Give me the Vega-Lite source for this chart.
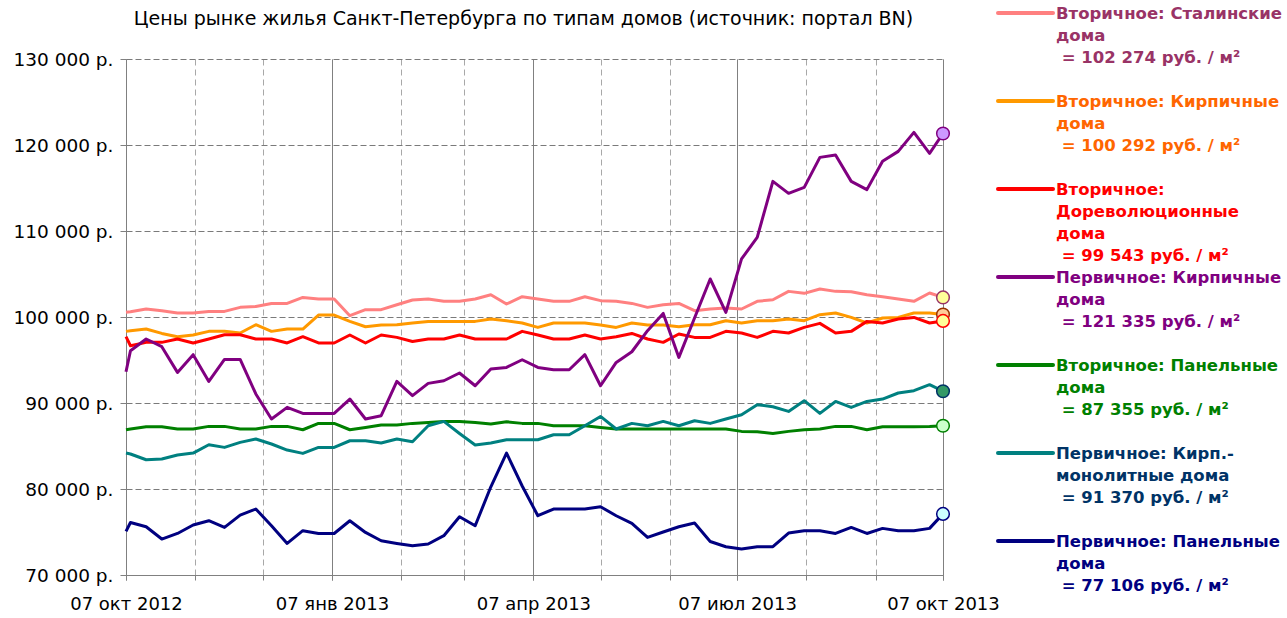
{
"$schema": "https://vega.github.io/schema/vega-lite/v6.json",
"padding": {"left": 12, "top": 6, "right": 5, "bottom": 3},
"background": "white",
"config": {"view": {"stroke": null}, "font": "DejaVu Sans"},
"spacing": 55,
"bounds": "flush",
"resolve": {"scale": {"fill": "independent", "stroke": "independent", "color": "independent"}},
"datasets": {
"main": [
{"d":"2012-10-07T00:00","stal":100550,"kirp":98330,"dorev":97710,"pkirp":93640,"pan":86890,"pmono":84180,"ppan":75070},
{"d":"2012-10-09T00:00","stal":100600,"kirp":98400,"dorev":96660,"pkirp":96080,"pan":86980,"pmono":84070,"ppan":76110},
{"d":"2012-10-16T00:00","stal":100930,"kirp":98600,"dorev":97050,"pkirp":97440,"pan":87240,"pmono":83400,"ppan":75610},
{"d":"2012-10-23T00:00","stal":100730,"kirp":98090,"dorev":97050,"pkirp":96550,"pan":87240,"pmono":83490,"ppan":74180},
{"d":"2012-10-30T00:00","stal":100470,"kirp":97710,"dorev":97440,"pkirp":93560,"pan":86980,"pmono":83950,"ppan":74830},
{"d":"2012-11-06T00:00","stal":100470,"kirp":97910,"dorev":96980,"pkirp":95620,"pan":86980,"pmono":84180,"ppan":75810},
{"d":"2012-11-13T00:00","stal":100650,"kirp":98330,"dorev":97440,"pkirp":92510,"pan":87280,"pmono":85150,"ppan":76310},
{"d":"2012-11-20T00:00","stal":100650,"kirp":98330,"dorev":97940,"pkirp":95070,"pan":87280,"pmono":84840,"ppan":75530},
{"d":"2012-11-27T00:00","stal":101120,"kirp":98140,"dorev":97940,"pkirp":95070,"pan":86980,"pmono":85420,"ppan":76970},
{"d":"2012-12-04T00:00","stal":101230,"kirp":99100,"dorev":97440,"pkirp":91050,"pan":86980,"pmono":85810,"ppan":77670},
{"d":"2012-12-11T00:00","stal":101580,"kirp":98330,"dorev":97440,"pkirp":88140,"pan":87280,"pmono":85230,"ppan":75730},
{"d":"2012-12-18T00:00","stal":101580,"kirp":98600,"dorev":96980,"pkirp":89490,"pan":87280,"pmono":84530,"ppan":73670},
{"d":"2012-12-25T00:00","stal":102280,"kirp":98600,"dorev":97710,"pkirp":88790,"pan":86890,"pmono":84140,"ppan":75150},
{"d":"2013-01-01T00:00","stal":102090,"kirp":100230,"dorev":96980,"pkirp":88790,"pan":87630,"pmono":84840,"ppan":74830},
{"d":"2013-01-08T00:00","stal":102090,"kirp":100230,"dorev":96980,"pkirp":88790,"pan":87630,"pmono":84840,"ppan":74830},
{"d":"2013-01-15T00:00","stal":100150,"kirp":99490,"dorev":97910,"pkirp":90460,"pan":86890,"pmono":85610,"ppan":76310},
{"d":"2013-01-22T00:00","stal":100850,"kirp":98870,"dorev":96980,"pkirp":88140,"pan":87160,"pmono":85610,"ppan":74950},
{"d":"2013-01-29T00:00","stal":100850,"kirp":99070,"dorev":97910,"pkirp":88520,"pan":87440,"pmono":85350,"ppan":73980},
{"d":"2013-02-05T00:00","stal":101430,"kirp":99100,"dorev":97630,"pkirp":92510,"pan":87440,"pmono":85810,"ppan":73670},
{"d":"2013-02-12T00:00","stal":101980,"kirp":99300,"dorev":97160,"pkirp":90850,"pan":87630,"pmono":85500,"ppan":73400},
{"d":"2013-02-19T00:00","stal":102090,"kirp":99490,"dorev":97440,"pkirp":92280,"pan":87740,"pmono":87360,"ppan":73600},
{"d":"2013-02-26T00:00","stal":101820,"kirp":99490,"dorev":97440,"pkirp":92590,"pan":87860,"pmono":87860,"ppan":74570},
{"d":"2013-03-05T00:00","stal":101820,"kirp":99490,"dorev":97910,"pkirp":93490,"pan":87860,"pmono":86460,"ppan":76780},
{"d":"2013-03-12T00:00","stal":102090,"kirp":99490,"dorev":97440,"pkirp":92010,"pan":87740,"pmono":85110,"ppan":75730},
{"d":"2013-03-19T00:00","stal":102590,"kirp":99770,"dorev":97440,"pkirp":93950,"pan":87560,"pmono":85350,"ppan":80260},
{"d":"2013-03-26T00:00","stal":101510,"kirp":99570,"dorev":97440,"pkirp":94140,"pan":87820,"pmono":85730,"ppan":84180},
{"d":"2013-04-02T00:00","stal":102360,"kirp":99300,"dorev":98330,"pkirp":95030,"pan":87630,"pmono":85730,"ppan":80350},
{"d":"2013-04-09T00:00","stal":102090,"kirp":98790,"dorev":97910,"pkirp":94140,"pan":87630,"pmono":85730,"ppan":76890},
{"d":"2013-04-16T00:00","stal":101820,"kirp":99300,"dorev":97440,"pkirp":93870,"pan":87360,"pmono":86310,"ppan":77670},
{"d":"2013-04-23T00:00","stal":101820,"kirp":99300,"dorev":97440,"pkirp":93870,"pan":87360,"pmono":86310,"ppan":77670},
{"d":"2013-04-30T00:00","stal":102360,"kirp":99300,"dorev":97910,"pkirp":95620,"pan":87360,"pmono":87360,"ppan":77670},
{"d":"2013-05-07T00:00","stal":101900,"kirp":99070,"dorev":97440,"pkirp":92010,"pan":87160,"pmono":88440,"ppan":77940},
{"d":"2013-05-14T00:00","stal":101820,"kirp":98790,"dorev":97710,"pkirp":94720,"pan":86980,"pmono":86980,"ppan":76890},
{"d":"2013-05-21T00:00","stal":101580,"kirp":99300,"dorev":98090,"pkirp":95960,"pan":86980,"pmono":87630,"ppan":76000},
{"d":"2013-05-28T00:00","stal":101120,"kirp":99070,"dorev":97440,"pkirp":98410,"pan":86980,"pmono":87360,"ppan":74370},
{"d":"2013-06-04T00:00","stal":101430,"kirp":99070,"dorev":97050,"pkirp":100420,"pan":86980,"pmono":87860,"ppan":75000},
{"d":"2013-06-11T00:00","stal":101580,"kirp":98870,"dorev":98020,"pkirp":95300,"pan":86980,"pmono":87360,"ppan":75610},
{"d":"2013-06-18T00:00","stal":100730,"kirp":99100,"dorev":97630,"pkirp":99880,"pan":86980,"pmono":87940,"ppan":76040},
{"d":"2013-06-25T00:00","stal":100930,"kirp":99100,"dorev":97630,"pkirp":104420,"pan":86980,"pmono":87630,"ppan":73900},
{"d":"2013-07-02T00:00","stal":101050,"kirp":99570,"dorev":98330,"pkirp":100540,"pan":86980,"pmono":88140,"ppan":73290},
{"d":"2013-07-09T00:00","stal":100930,"kirp":99300,"dorev":98140,"pkirp":106750,"pan":86700,"pmono":88640,"ppan":73020},
{"d":"2013-07-16T00:00","stal":101820,"kirp":99570,"dorev":97630,"pkirp":109260,"pan":86660,"pmono":89800,"ppan":73290},
{"d":"2013-07-23T00:00","stal":102010,"kirp":99570,"dorev":98330,"pkirp":115770,"pan":86460,"pmono":89570,"ppan":73290},
{"d":"2013-07-30T00:00","stal":102980,"kirp":99770,"dorev":98140,"pkirp":114380,"pan":86700,"pmono":89020,"ppan":74880},
{"d":"2013-08-06T00:00","stal":102750,"kirp":99570,"dorev":98790,"pkirp":115070,"pan":86890,"pmono":90270,"ppan":75150},
{"d":"2013-08-13T00:00","stal":103260,"kirp":100270,"dorev":99260,"pkirp":118560,"pan":86980,"pmono":88790,"ppan":75150},
{"d":"2013-08-20T00:00","stal":102980,"kirp":100470,"dorev":98140,"pkirp":118840,"pan":87280,"pmono":90180,"ppan":74830},
{"d":"2013-08-27T00:00","stal":102940,"kirp":99950,"dorev":98330,"pkirp":115770,"pan":87280,"pmono":89490,"ppan":75530},
{"d":"2013-09-03T00:00","stal":102590,"kirp":99300,"dorev":99490,"pkirp":114810,"pan":86890,"pmono":90180,"ppan":74830},
{"d":"2013-09-10T00:00","stal":102360,"kirp":99880,"dorev":99300,"pkirp":118100,"pan":87240,"pmono":90460,"ppan":75420},
{"d":"2013-09-17T00:00","stal":102090,"kirp":99950,"dorev":99770,"pkirp":119260,"pan":87240,"pmono":91160,"ppan":75150},
{"d":"2013-09-24T00:00","stal":101820,"kirp":100470,"dorev":99950,"pkirp":121470,"pan":87240,"pmono":91430,"ppan":75150},
{"d":"2013-10-01T00:00","stal":102790,"kirp":100470,"dorev":99300,"pkirp":119030,"pan":87280,"pmono":92130,"ppan":75420},
{"d":"2013-10-07T00:00","stal":102274,"kirp":100292,"dorev":99543,"pkirp":121335,"pan":87355,"pmono":91370,"ppan":77106}
],
"legend": [
{"key":"stal","label":["Вторичное: Сталинские","дома","\u200b\u00a0= 102 274 руб. / м²"]},
{"key":"kirp","label":["Вторичное: Кирпичные","дома","\u200b\u00a0= 100 292 руб. / м²"]},
{"key":"dorev","label":["Вторичное:","Дореволюционные","дома","\u200b\u00a0= 99 543 руб. / м²"]},
{"key":"pkirp","label":["Первичное: Кирпичные","дома","\u200b\u00a0= 121 335 руб. / м²"]},
{"key":"pan","label":["Вторичное: Панельные","дома","\u200b\u00a0= 87 355 руб. / м²"]},
{"key":"pmono","label":["Первичное: Кирп.-","монолитные дома","\u200b\u00a0= 91 370 руб. / м²"]},
{"key":"ppan","label":["Первичное: Панельные","дома","\u200b\u00a0= 77 106 руб. / м²"]}
]
},
"hconcat": [
{
"width": 817,
"height": 516,
"title": {"text": "Цены рынке жилья Санкт-Петербурга по типам домов (источник: портал BN)", "font": "DejaVu Sans", "fontSize": 19, "fontWeight": "normal", "color": "#000000", "offset": 21, "dx": -11, "anchor": "middle"},
"data": {"name": "main"},
"transform": [{"fold": ["stal","kirp","dorev","pkirp","pan","pmono","ppan"], "as": ["key","value"]}],
"layer": [
{
"mark": {"type": "line", "strokeWidth": 3, "strokeJoin": "round"},
"encoding": {
"x": {"field": "d", "type": "temporal",
 "scale": {"domain": [{"year":2012,"month":10,"date":7},{"year":2013,"month":10,"date":7}]},
 "axis": {"orient": "bottom", "title": null, "labels": false, "grid": true, "gridDash": [6,4], "gridColor": "#a8a8a8", "gridWidth": 1, "ticks": true, "tickSize": 5, "tickColor": "#808080", "domain": true, "domainColor": "#808080",
  "values": [{"year":2012,"month":10,"date":7},{"year":2012,"month":11,"date":7},{"year":2012,"month":12,"date":7},{"year":2013,"month":1,"date":7},{"year":2013,"month":2,"date":7},{"year":2013,"month":3,"date":7},{"year":2013,"month":4,"date":7},{"year":2013,"month":5,"date":7},{"year":2013,"month":6,"date":7},{"year":2013,"month":7,"date":7},{"year":2013,"month":8,"date":7},{"year":2013,"month":9,"date":7},{"year":2013,"month":10,"date":7}]}},
"y": {"field": "value", "type": "quantitative",
 "scale": {"domain": [70000,130000], "nice": false, "zero": false},
 "axis": {"title": null, "values": [70000,80000,90000,100000,110000,120000,130000], "grid": true, "gridDash": [6,3], "gridColor": "#7a7a7a", "gridWidth": 1, "tickSize": 6, "tickColor": "#808080", "domainColor": "#808080", "labelFont": "DejaVu Sans", "labelFontSize": 18.5, "labelColor": "#000000", "labelPadding": 7, "minExtent": 114, "maxExtent": 114,
  "labelExpr": "replace(format(datum.value, ',.0f'), ',', ' ') + ' р.'"}},
"color": {"field": "key", "type": "nominal",
 "scale": {"domain": ["stal","kirp","dorev","pkirp","pan","pmono","ppan"], "range": ["#FF8080","#FF9900","#FF0000","#800080","#008000","#008080","#000080"]},
 "legend": null}
}
},
{
"transform": [{"filter": {"field": "d", "equal": {"year":2013,"month":10,"date":7}}}],
"mark": {"type": "circle", "size": 160, "strokeWidth": 1.5, "opacity": 1},
"encoding": {
"x": {"field": "d", "type": "temporal",
 "axis": {"orient": "bottom", "title": null, "grid": true, "gridColor": "#808080", "gridWidth": 1, "ticks": true, "tickSize": 5, "tickColor": "#808080", "domain": true, "domainColor": "#808080", "labelFont": "DejaVu Sans", "labelFontSize": 18, "labelColor": "#000000", "labelPadding": 15, "labelFlush": false, "labelOverlap": false,
  "values": [{"year":2012,"month":10,"date":7},{"year":2013,"month":1,"date":7},{"year":2013,"month":4,"date":7},{"year":2013,"month":7,"date":7},{"year":2013,"month":10,"date":7}],
  "labelExpr": "timeFormat(datum.value, '%d') + ' ' + ['янв','фев','мар','апр','май','июн','июл','авг','сен','окт','ноя','дек'][month(datum.value)] + ' ' + timeFormat(datum.value, '%Y')"}},
"y": {"field": "value", "type": "quantitative"},
"fill": {"field": "key", "type": "nominal",
 "scale": {"domain": ["stal","kirp","dorev","pkirp","pan","pmono","ppan"], "range": ["#FFFF99","#FFCC99","#FFFF99","#CC99FF","#CCFFCC","#339966","#CCFFFF"]},
 "legend": null},
"stroke": {"field": "key", "type": "nominal",
 "scale": {"domain": ["stal","kirp","dorev","pkirp","pan","pmono","ppan"], "range": ["#993366","#993300","#FF0000","#800080","#008000","#003366","#000080"]},
 "legend": null}
}
}
],
"resolve": {"axis": {"x": "independent"}}
},
{
"width": 55,
"height": 516,
"data": {"name": "legend"},
"layer": [
{
"mark": {"type": "rule", "strokeWidth": 4, "strokeCap": "round"},
"encoding": {
"y": {"field": "key", "type": "nominal", "scale": {"type": "point", "padding": 0, "domain": ["stal","kirp","dorev","pkirp","pan","pmono","ppan"], "range": [-46, 482]}, "axis": null},
"x": {"datum": 0, "type": "quantitative", "scale": {"domain": [0,1]}, "axis": null},
"x2": {"datum": 1},
"stroke": {"field": "key", "type": "nominal",
 "scale": {"domain": ["stal","kirp","dorev","pkirp","pan","pmono","ppan"], "range": ["#FF8080","#FF9900","#FF0000","#800080","#008000","#008080","#000080"]},
 "legend": null}
}
},
{
"mark": {"type": "text", "align": "left", "baseline": "top", "dx": 3, "dy": -7, "font": "DejaVu Sans", "fontWeight": "bold", "fontSize": 16.5, "lineHeight": 22},
"encoding": {
"y": {"field": "key", "type": "nominal"},
"x": {"datum": 1, "type": "quantitative"},
"text": {"field": "label"},
"fill": {"field": "key", "type": "nominal",
 "scale": {"domain": ["stal","kirp","dorev","pkirp","pan","pmono","ppan"], "range": ["#993366","#FF6600","#FF0000","#800080","#008000","#003366","#000080"]},
 "legend": null}
}
}
]
}
]
}
